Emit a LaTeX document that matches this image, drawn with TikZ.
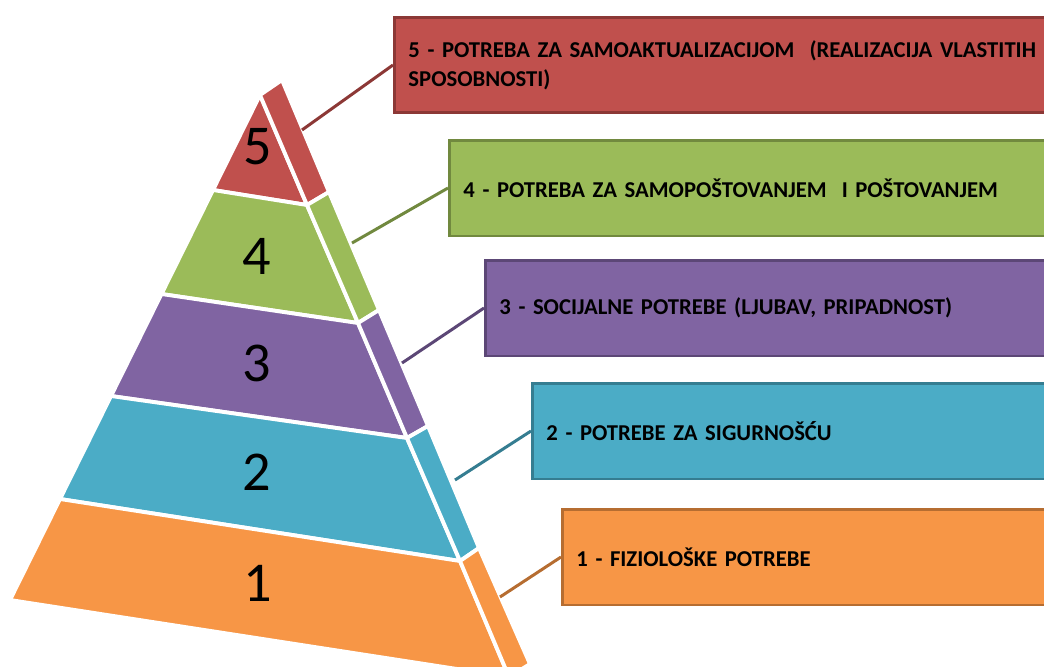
\documentclass[tikz,border=0pt]{standalone}
\usepackage{fontspec}
\setmainfont{Carlito}
\definecolor{redF}{HTML}{C0504D}\definecolor{redD}{HTML}{8C3836}
\definecolor{grnF}{HTML}{9BBB59}\definecolor{grnD}{HTML}{71893F}
\definecolor{purF}{HTML}{8064A2}\definecolor{purD}{HTML}{5C4776}
\definecolor{tealF}{HTML}{4BACC6}\definecolor{tealD}{HTML}{357D91}
\definecolor{orgF}{HTML}{F79646}\definecolor{orgD}{HTML}{B66D31}
\tikzset{
  piece/.style={draw=white, line width=2.2pt, line join=miter},
  infobox/.style={rectangle, anchor=west, line width=1.7pt, text width=13cm,
    inner xsep=0.28cm, minimum height=1.92cm, align=left,
    font=\bfseries\fontsize{12.9}{16.4}\selectfont},
  numlabel/.style={font=\fontsize{32}{38}\selectfont, inner sep=0pt},
  conn/.style={line width=1.7pt},
}
\begin{document}
\begin{tikzpicture}[x=0.02cm, y=-0.02cm]
\useasboundingbox (0,0) rectangle (1044,666);
\clip (0,0) rectangle (1044,666);
% geometry
\coordinate (A) at (260,95);
\coordinate (ST) at (282,80);
\coordinate (L54) at (213,190); \coordinate (R54) at (307,205); \coordinate (S54) at (329,192);
\coordinate (L43) at (161.5,294); \coordinate (R43) at (358,323); \coordinate (S43) at (379,310);
\coordinate (L32) at (111,396); \coordinate (R32) at (407,438); \coordinate (S32) at (428,426);
\coordinate (L21) at (60,499); \coordinate (R21) at (460,561); \coordinate (S21) at (479,548);
\coordinate (BL) at (10,600); \coordinate (RB) at (509,677); \coordinate (SB) at (530,664);
% layer 5
\filldraw[piece, fill=redF] (A) -- (L54) -- (R54) -- cycle;
\filldraw[piece, fill=redF] (A) -- (ST) -- (S54) -- (R54) -- cycle;
% layer 4
\filldraw[piece, fill=grnF] (L54) -- (L43) -- (R43) -- (R54) -- cycle;
\filldraw[piece, fill=grnF] (R54) -- (S54) -- (S43) -- (R43) -- cycle;
% layer 3
\filldraw[piece, fill=purF] (L43) -- (L32) -- (R32) -- (R43) -- cycle;
\filldraw[piece, fill=purF] (R43) -- (S43) -- (S32) -- (R32) -- cycle;
% layer 2
\filldraw[piece, fill=tealF] (L32) -- (L21) -- (R21) -- (R32) -- cycle;
\filldraw[piece, fill=tealF] (R32) -- (S32) -- (S21) -- (R21) -- cycle;
% layer 1
\filldraw[piece, fill=orgF] (L21) -- (BL) -- (RB) -- (R21) -- cycle;
\filldraw[piece, fill=orgF] (R21) -- (S21) -- (SB) -- (RB) -- cycle;
% numbers
\node[numlabel] (n5) at (258,147) {5};
\node[numlabel] (n4) at (257,256) {4};
\node[numlabel] (n3) at (257,363) {3};
\node[numlabel] (n2) at (257,472) {2};
\node[numlabel] (n1) at (258,583) {1};
% connector start points
\coordinate (c5) at (302,130);
\coordinate (c4) at (352,243);
\coordinate (c3) at (402,363);
\coordinate (c2) at (455,480);
\coordinate (c1) at (500,597);
% boxes
\node[infobox, fill=redF, draw=redD] (b5) at (393,65)
  {5 - POTREBA ZA SAMOAKTUALIZACIJOM\ \ (REALIZACIJA VLASTITIH\\SPOSOBNOSTI)};
\node[infobox, fill=grnF, draw=grnD] (b4) at (448,188)
  {4 - POTREBA ZA SAMOPOŠTOVANJEM\ \ I POŠTOVANJEM};
\node[infobox, fill=purF, draw=purD] (b3) at (484,308)
  {3 - SOCIJALNE POTREBE (LJUBAV, PRIPADNOST)};
\node[infobox, fill=tealF, draw=tealD] (b2) at (531,431)
  {2 - POTREBE ZA SIGURNOŠĆU};
\node[infobox, fill=orgF, draw=orgD] (b1) at (561,557)
  {1 - FIZIOLOŠKE POTREBE};
% connectors
\draw[conn, draw=redD] (c5) -- (b5.west);
\draw[conn, draw=grnD] (c4) -- (b4.west);
\draw[conn, draw=purD] (c3) -- (b3.west);
\draw[conn, draw=tealD] (c2) -- (b2.west);
\draw[conn, draw=orgD] (c1) -- (b1.west);
\end{tikzpicture}
\end{document}
